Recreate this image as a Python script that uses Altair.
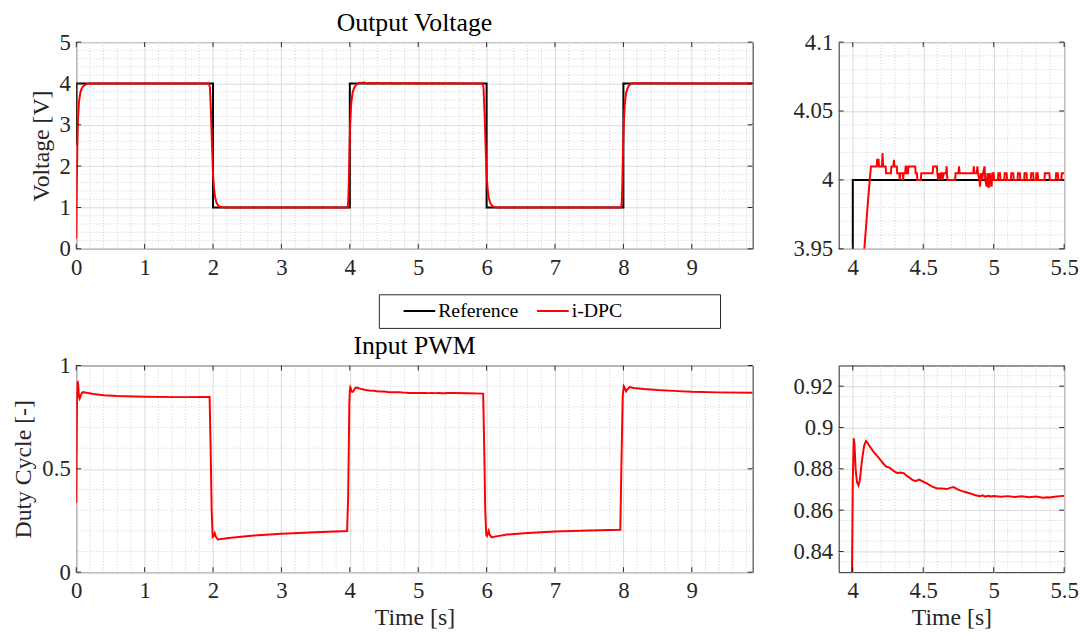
import altair as alt
import pandas as pd

FONT = "Liberation Serif"
TXT = "#262626"
GRID_MAJ = "#dadada"
GRID_MIN = "#cfcfcf"

# ---------------- data ----------------
series_names = ["Reference", "i-DPC"]
series_colors = ["#000000", "#ff0000"]

ref_t = [0.0, 0.004, 2.0, 2.0, 4.0, 4.0, 6.0, 6.0, 8.0, 8.0, 9.89]
ref_v = [2.5, 4.0, 4.0, 1.0, 1.0, 4.0, 4.0, 1.0, 1.0, 4.0, 4.0]

# i-DPC output voltage: start-up and first transitions
vout_t_a = [0.0, 0.008, 0.015, 0.025, 0.04, 0.06, 0.08, 0.11, 0.15, 0.2, 1.0, 1.94,
            1.955, 1.97, 1.985, 2.0, 2.015, 2.03, 2.05, 2.08, 2.12, 2.18, 3.0, 3.965,
            3.975, 3.985, 3.995, 4.005, 4.02, 4.04, 4.06, 4.082, 4.106, 4.117, 4.129]
vout_v_a = [0.25, 1.5, 2.4, 3.1, 3.55, 3.78, 3.88, 3.95, 3.985, 4.0, 4.0, 4.0,
            3.9, 3.3, 2.5, 1.8, 1.45, 1.25, 1.12, 1.04, 1.01, 1.0, 1.0, 1.0,
            1.1, 1.6, 2.4, 3.0, 3.5, 3.77, 3.88, 3.95, 3.982, 3.996, 4.0098]
# i-DPC output voltage: settling detail (quantised)
vout_t_b = [4.170, 4.173, 4.183, 4.186, 4.207, 4.211, 4.215, 4.233, 4.236, 4.270,
            4.274, 4.288, 4.292, 4.296, 4.312, 4.315, 4.330, 4.333, 4.337, 4.354,
            4.357, 4.361, 4.372, 4.375, 4.380, 4.383, 4.392, 4.395, 4.443, 4.446,
            4.455, 4.458, 4.483, 4.486, 4.567, 4.570, 4.597, 4.600, 4.606, 4.612,
            4.620, 4.626, 4.634, 4.637, 4.645, 4.662, 4.666, 4.671, 4.726, 4.729,
            4.750, 4.754, 4.758, 4.855, 4.859, 4.863, 4.880, 4.884, 4.888, 4.898,
            4.903, 4.908, 4.918, 4.925, 4.935, 4.940, 4.950, 4.956, 4.962, 4.968,
            4.972, 4.980, 4.985, 4.990, 5.000, 5.003, 5.030, 5.033, 5.045, 5.048,
            5.075, 5.078, 5.092, 5.095, 5.122, 5.125, 5.139, 5.142, 5.169, 5.172,
            5.186, 5.189, 5.216, 5.219, 5.233, 5.236, 5.263, 5.266, 5.280, 5.283,
            5.300, 5.303, 5.312, 5.315, 5.360, 5.363, 5.395, 5.398, 5.440, 5.443,
            5.455, 5.458, 5.480, 5.483, 5.520]
vout_v_b = [4.0098, 4.0146, 4.0146, 4.0098, 4.0098, 4.0195, 4.0098, 4.0098, 4.0049, 4.0049,
            4.0098, 4.0098, 4.0146, 4.0098, 4.0098, 4.0049, 4.0049, 4.0, 4.0049, 4.0049,
            4.0, 4.0049, 4.0049, 4.0098, 4.0098, 4.0049, 4.0049, 4.0098, 4.0098, 4.0049,
            4.0049, 4.0, 4.0, 4.0049, 4.0049, 4.0098, 4.0098, 4.0049, 4.0, 4.0049,
            4.0, 4.0049, 4.0049, 4.0, 4.0049, 4.0049, 4.0098, 4.0, 4.0, 4.0049,
            4.0049, 4.0098, 4.0049, 4.0049, 4.0098, 4.0049, 4.0049, 4.0098, 4.0049, 4.0,
            3.9951, 4.0049, 4.0, 4.0049, 4.0098, 4.0, 3.9951, 4.0049, 3.9951, 3.9951,
            4.0049, 4.0, 3.9951, 4.0049, 4.0049, 4.0, 4.0, 4.0049, 4.0049, 4.0,
            4.0, 4.0049, 4.0049, 4.0, 4.0, 4.0049, 4.0049, 4.0, 4.0, 4.0049,
            4.0049, 4.0, 4.0, 4.0049, 4.0049, 4.0, 4.0, 4.0049, 4.0049, 4.0,
            4.0, 4.0049, 4.0049, 4.0, 4.0, 4.0049, 4.0049, 4.0, 4.0, 4.0049,
            4.0049, 4.0, 4.0, 4.0049, 4.0049]
# i-DPC output voltage: remaining transitions
vout_t_c = [5.6, 5.94, 5.955, 5.97, 5.985, 6.0, 6.015, 6.03, 6.05, 6.08, 6.12, 6.18, 7.0,
            7.965, 7.975, 7.985, 7.995, 8.005, 8.02, 8.04, 8.06, 8.082, 8.106, 8.13, 8.3,
            9.0, 9.89]
vout_v_c = [4.0, 4.0, 3.9, 3.3, 2.5, 1.8, 1.45, 1.25, 1.12, 1.04, 1.01, 1.0, 1.0,
            1.0, 1.1, 1.6, 2.4, 3.0, 3.5, 3.77, 3.88, 3.95, 3.985, 4.005, 4.005,
            4.0, 4.0]

# duty cycle
duty_t_a = [0.0, 0.006, 0.012, 0.02, 0.028, 0.04, 0.05, 0.06, 0.08, 0.1, 0.15, 0.25,
            0.4, 0.6, 1.0, 1.5, 1.95, 1.965, 1.98, 1.995, 2.01, 2.025, 2.04, 2.07,
            2.12, 2.3, 2.6, 3.0, 3.5, 3.96, 3.975, 3.985, 3.993]
duty_d_a = [0.335, 0.62, 0.85, 0.925, 0.91, 0.85, 0.84, 0.848, 0.866, 0.871, 0.868, 0.862,
            0.856, 0.852, 0.849, 0.847, 0.848, 0.6, 0.3, 0.17, 0.175, 0.188, 0.172, 0.158,
            0.161, 0.168, 0.177, 0.186, 0.193, 0.199, 0.35, 0.6, 0.82]
duty_t_b = [4.0, 4.007, 4.012, 4.02, 4.03, 4.04, 4.05, 4.065, 4.08, 4.094, 4.105, 4.129,
            4.15, 4.176, 4.2, 4.223, 4.24, 4.258, 4.28, 4.3, 4.317, 4.34, 4.364, 4.38,
            4.399, 4.42, 4.446, 4.47, 4.5, 4.528, 4.56, 4.599, 4.63, 4.669, 4.69, 4.716,
            4.74, 4.775, 4.8, 4.834, 4.87, 4.904, 4.92, 4.94, 4.96, 4.98, 5.0, 5.05,
            5.1, 5.15, 5.2, 5.25, 5.3, 5.35, 5.38, 5.397, 5.43, 5.47, 5.51]
duty_d_b = [0.875, 0.8948, 0.892, 0.88, 0.8735, 0.872, 0.8745, 0.884, 0.891, 0.8935, 0.8925, 0.890,
            0.888, 0.886, 0.884, 0.882, 0.881, 0.8807, 0.8795, 0.8785, 0.878, 0.8782, 0.8778, 0.8768,
            0.8759, 0.8748, 0.874, 0.8748, 0.8738, 0.8728, 0.8715, 0.8705, 0.8705, 0.8702, 0.8708, 0.8712,
            0.8702, 0.8692, 0.8688, 0.8681, 0.8672, 0.8668, 0.8672, 0.8665, 0.867, 0.8666, 0.8669, 0.8665,
            0.8668, 0.8664, 0.8667, 0.8663, 0.8666, 0.866, 0.8662, 0.8661, 0.8665, 0.8668, 0.867]
duty_t_c = [5.7, 5.95, 5.965, 5.98, 5.995, 6.005, 6.02, 6.03, 6.045, 6.075, 6.12, 6.3,
            6.6, 7.0, 7.5, 7.955, 7.97, 7.99, 8.005, 8.015, 8.04, 8.06, 8.09, 8.15,
            8.3, 8.5, 8.8, 9.0, 9.4, 9.89]
duty_d_c = [0.866, 0.864, 0.6, 0.3, 0.18, 0.175, 0.19, 0.2, 0.18, 0.168, 0.172, 0.182,
            0.19, 0.197, 0.202, 0.205, 0.5, 0.85, 0.9, 0.895, 0.875, 0.885, 0.896, 0.891,
            0.886, 0.881, 0.876, 0.873, 0.87, 0.868]

# axis ticks
time_major = [0, 1, 2, 3, 4, 5, 6, 7, 8, 9]
zoom_time_major = [4, 4.5, 5, 5.5]
volt_major = [0, 1, 2, 3, 4, 5]
volt_zoom_major = [3.95, 4, 4.05, 4.1]
duty_major = [0, 0.5, 1]
duty_zoom_major = [0.84, 0.86, 0.88, 0.9, 0.92]


def minor(lo, hi, step, majors):
    out, k = [], 0
    while lo + k * step <= hi + 1e-9:
        v = round(lo + k * step, 4)
        if all(abs(v - m) > 1e-6 for m in majors):
            out.append(v)
        k += 1
    return out


time_minor = minor(0.2, 9.8, 0.2, time_major)
zoom_time_minor = minor(4.0, 5.5, 0.1, zoom_time_major)
volt_minor = minor(0.2, 4.8, 0.2, volt_major)
volt_zoom_minor = minor(3.96, 4.09, 0.01, volt_zoom_major)
duty_minor = minor(0.1, 0.9, 0.1, duty_major)
duty_zoom_minor = minor(0.835, 0.925, 0.005, duty_zoom_major)

# ---------------- tables ----------------
vout_t = vout_t_a + vout_t_b + vout_t_c
vout_v = vout_v_a + vout_v_b + vout_v_c
volt_df = pd.concat([
    pd.DataFrame({"t": ref_t, "v": ref_v, "series": series_names[0], "i": range(len(ref_t))}),
    pd.DataFrame({"t": vout_t, "v": vout_v, "series": series_names[1], "i": range(len(vout_t))}),
], ignore_index=True)
duty_t = duty_t_a + duty_t_b + duty_t_c
duty_d = duty_d_a + duty_d_b + duty_d_c
duty_df = pd.DataFrame({"t": duty_t, "v": duty_d, "i": range(len(duty_t))})

W_MAIN, W_ZOOM, H = 684, 228, 209

legend = alt.Legend(
    orient="none", legendX=306, legendY=255, direction="horizontal",
    title="\u00a0", titleOrient="right", titlePadding=92, titleFontSize=20, titleFont=FONT,
    labelFont=FONT, labelFontSize=20, labelColor="#000000",
    symbolOffset=17, labelOffset=2,
    symbolType="stroke", symbolSize=1024, symbolStrokeWidth=2, clipHeight=20,
    padding=7, strokeColor=TXT, fillColor="#ffffff", columnPadding=0, cornerRadius=0,
)
color_scale = alt.Scale(domain=series_names, range=series_colors)


def panel(df, xdom, ydom, W, xmaj, xmin, ymaj, ymin, xtitle, ytitle, ytitle_x,
          title=None, title_dy=5, voltage=True, show_legend=False):
    xs = alt.Scale(domain=xdom, nice=False, zero=False)
    ys = alt.Scale(domain=ydom, nice=False, zero=False)
    xaxis = alt.Axis(
        orient="bottom", values=xmaj, grid=True, gridColor=GRID_MAJ, gridWidth=1, labels=True,
        ticks=False, tickSize=0, domain=False, labelFlush=False, labelOverlap=False,
        labelPadding=8, format="~g", title=xtitle, titleX=W / 2, titleY=53,
        titleBaseline="alphabetic")
    yaxis = alt.Axis(
        orient="left", values=ymaj, grid=True, gridColor=GRID_MAJ, gridWidth=1, labels=True,
        ticks=False, tickSize=0, domain=False, labelFlush=False, labelOverlap=False,
        labelPadding=6, format="~g", title=ytitle, titleX=ytitle_x, titleY=H / 2,
        titleAngle=270, titleAlign="center", titleBaseline="alphabetic")
    X = lambda f: alt.X(f, scale=xs, axis=xaxis)
    Y = lambda f: alt.Y(f, scale=ys, axis=yaxis)

    # minor (dotted) grid
    xmin_c = alt.Chart(pd.DataFrame({"g": xmin})).mark_rule(
        color=GRID_MIN, strokeDash=[1, 2], strokeWidth=1).encode(x=X("g:Q"))
    ymin_c = alt.Chart(pd.DataFrame({"g": ymin})).mark_rule(
        color=GRID_MIN, strokeDash=[1, 2], strokeWidth=1).encode(y=Y("g:Q"))

    # data
    base = alt.Chart(df)
    if voltage:
        data_l = base.mark_line(clip=True, strokeWidth=2).encode(
            x=X("t:Q"), y=Y("v:Q"),
            color=alt.Color("series:N", scale=color_scale,
                            legend=legend if show_legend else None),
            order="i:Q",
        )
    else:
        data_l = base.mark_line(clip=True, strokeWidth=2, color="#ff0000").encode(
            x=X("t:Q"), y=Y("v:Q"), order="i:Q",
        )

    # inward ticks on all four sides
    xt = alt.Chart(pd.DataFrame({"g": xmaj})).mark_rule(color=TXT, strokeWidth=1)
    yt = alt.Chart(pd.DataFrame({"g": ymaj})).mark_rule(color=TXT, strokeWidth=1)
    ticks = [
        xt.encode(x=X("g:Q"), y=alt.value(0), y2=alt.value(5)),
        xt.encode(x=X("g:Q"), y=alt.value(H - 5), y2=alt.value(H)),
        yt.encode(y=Y("g:Q"), x=alt.value(0), x2=alt.value(5)),
        yt.encode(y=Y("g:Q"), x=alt.value(W - 5), x2=alt.value(W)),
    ]
    ch = alt.layer(xmin_c, ymin_c, data_l, *ticks)
    props = dict(width=W, height=H)
    if title:
        props["title"] = alt.TitleParams(title, anchor="middle", offset=0, dy=title_dy,
                                         fontSize=26, font=FONT,
                                         fontWeight="normal", color="#000000")
    return ch.properties(**props)


tl = panel(volt_df, [0, 9.89], [0, 5], W_MAIN, time_major, time_minor, volt_major, volt_minor,
           "", "Voltage [V]", -28, title="Output Voltage", title_dy=5,
           voltage=True, show_legend=True)
tr = panel(volt_df, [3.9, 5.5], [3.95, 4.1], W_ZOOM, zoom_time_major, zoom_time_minor,
           volt_zoom_major, volt_zoom_minor, "", "", -50, voltage=True)
bl = panel(duty_df, [0, 9.89], [0, 1], W_MAIN, time_major, time_minor, duty_major, duty_minor,
           "Time [s]", "Duty Cycle [-]", -46.5, title="Input PWM", title_dy=4,
           voltage=False)
br = panel(duty_df, [3.9, 5.5], [0.83, 0.93], W_ZOOM, zoom_time_major, zoom_time_minor,
           duty_zoom_major, duty_zoom_minor, "Time [s]", "", -50, voltage=False)

row1 = alt.hconcat(tl, tr, spacing=39)
row2 = alt.hconcat(bl, br, spacing=39)

chart = alt.vconcat(row1, row2, spacing=52).properties(
    padding={"left": 3, "top": -2, "right": 0, "bottom": 0}
).configure_view(
    stroke=TXT, strokeWidth=1
).configure_axis(
    labelFont=FONT, labelFontSize=23, labelColor=TXT, titleFont=FONT, titleFontSize=24,
    titleColor=TXT, titleFontWeight="normal"
).configure_title(font=FONT, fontWeight="normal")

chart.save("out.html", embed_options={"renderer": "svg", "actions": False})
